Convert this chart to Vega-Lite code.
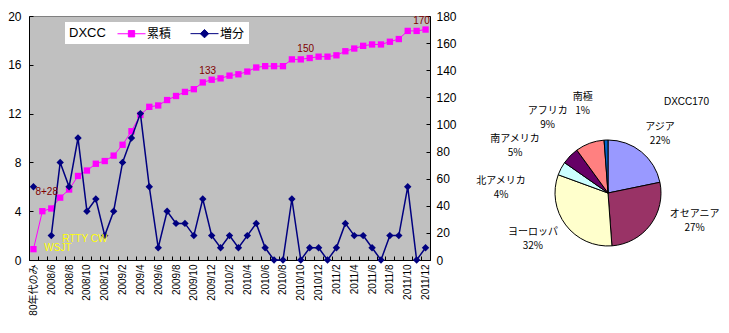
{
  "$schema": "https://vega.github.io/schema/vega-lite/v6.json",
  "background": "white",
  "padding": {"left": 7, "top": 9, "right": 4, "bottom": 3},
  "config": {
    "font": "Liberation Sans, Noto Sans CJK JP",
    "view": {"stroke": null},
    "axis": {"grid": false, "domainColor": "black", "tickColor": "black", "labelColor": "black", "labelFont": "Liberation Sans, Noto Sans CJK JP"},
    "title": {"color": "black"},
    "text": {"fontSize": 10, "lineBreak": "\n", "lineHeight": 14, "dy": -7, "font": "Noto Sans CJK JP", "color": "black"}
  },
  "datasets": {
    "monthly": [
      {"m": "80年代のみ", "inc": 6, "cum": 8},
      {"m": "2008/5", "inc": null, "cum": 36},
      {"m": "2008/6", "inc": 2, "cum": 38},
      {"m": "2008/7", "inc": 8, "cum": 46},
      {"m": "2008/8", "inc": 6, "cum": 52},
      {"m": "2008/9", "inc": 10, "cum": 62},
      {"m": "2008/10", "inc": 4, "cum": 66},
      {"m": "2008/11", "inc": 5, "cum": 71},
      {"m": "2008/12", "inc": 2, "cum": 73},
      {"m": "2009/1", "inc": 4, "cum": 77},
      {"m": "2009/2", "inc": 8, "cum": 85},
      {"m": "2009/3", "inc": 10, "cum": 95},
      {"m": "2009/4", "inc": 12, "cum": 107},
      {"m": "2009/5", "inc": 6, "cum": 113},
      {"m": "2009/6", "inc": 1, "cum": 114},
      {"m": "2009/7", "inc": 4, "cum": 118},
      {"m": "2009/8", "inc": 3, "cum": 121},
      {"m": "2009/9", "inc": 3, "cum": 124},
      {"m": "2009/10", "inc": 2, "cum": 126},
      {"m": "2009/11", "inc": 5, "cum": 131},
      {"m": "2009/12", "inc": 2, "cum": 133, "lbl": "133"},
      {"m": "2010/1", "inc": 1, "cum": 134},
      {"m": "2010/2", "inc": 2, "cum": 136},
      {"m": "2010/3", "inc": 1, "cum": 137},
      {"m": "2010/4", "inc": 2, "cum": 139},
      {"m": "2010/5", "inc": 3, "cum": 142},
      {"m": "2010/6", "inc": 1, "cum": 143},
      {"m": "2010/7", "inc": 0, "cum": 143},
      {"m": "2010/8", "inc": 0, "cum": 143},
      {"m": "2010/9", "inc": 5, "cum": 148},
      {"m": "2010/10", "inc": 0, "cum": 148},
      {"m": "2010/11", "inc": 1, "cum": 149, "lbl": "150"},
      {"m": "2010/12", "inc": 1, "cum": 150},
      {"m": "2011/1", "inc": 0, "cum": 150},
      {"m": "2011/2", "inc": 1, "cum": 151},
      {"m": "2011/3", "inc": 3, "cum": 154},
      {"m": "2011/4", "inc": 2, "cum": 156},
      {"m": "2011/5", "inc": 2, "cum": 158},
      {"m": "2011/6", "inc": 1, "cum": 159},
      {"m": "2011/7", "inc": 0, "cum": 159},
      {"m": "2011/8", "inc": 2, "cum": 161},
      {"m": "2011/9", "inc": 2, "cum": 163},
      {"m": "2011/10", "inc": 6, "cum": 169},
      {"m": "2011/11", "inc": 0, "cum": 169},
      {"m": "2011/12", "inc": 1, "cum": 170, "lbl": "170"}
    ],
    "notes": [
      {"m": "80年代のみ", "v": 5.6, "t": "8+28"},
      {"m": "2008/7", "v": 1.75, "t": "RTTY CW"},
      {"m": "2008/5", "v": 1.0, "t": "WSJT"}
    ],
    "regions": [
      {"region": "アジア", "n": 37, "o": 1, "label": "アジア\n22%"},
      {"region": "オセアニア", "n": 46, "o": 2, "label": "オセアニア\n27%"},
      {"region": "ヨーロッパ", "n": 54, "o": 3, "label": "ヨーロッパ\n32%"},
      {"region": "北アメリカ", "n": 7, "o": 4, "label": "北アメリカ\n4%"},
      {"region": "南アメリカ", "n": 9, "o": 5, "label": "南アメリカ\n5%"},
      {"region": "アフリカ", "n": 15, "o": 6, "label": "アフリカ\n9%"},
      {"region": "南極", "n": 2, "o": 7, "label": "南極\n1%"}
    ]
  },
  "hconcat": [
    {
      "width": 401,
      "height": 244,
      "view": {"fill": "#c0c0c0", "stroke": "#808080"},
      "data": {"name": "monthly"},
      "encoding": {
        "x": {
          "field": "m", "type": "ordinal", "sort": null, "bandPosition": 0.5,
          "scale": {"type": "band", "paddingInner": 0, "paddingOuter": 0},
          "axis": {
            "title": null, "labelAngle": 270, "labelFontSize": 10, "labelPadding": 8,
            "tickSize": -4, "tickBand": "extent", "labelOverlap": false, "labelBound": false,
            "labelExpr": "datum.value == '80年代のみ' || toNumber(split(datum.value, '/')[1]) % 2 == 0 ? datum.value : ''"
          }
        }
      },
      "layer": [
        {
          "encoding": {
            "y": {
              "field": "cum", "type": "quantitative",
              "scale": {"domain": [0, 180], "nice": false},
              "axis": {"orient": "right", "title": null, "values": [0, 20, 40, 60, 80, 100, 120, 140, 160, 180], "tickSize": -4, "labelPadding": 10, "labelFontSize": 12}
            },
            "color": {
              "datum": "累積", "type": "nominal",
              "scale": {"domain": ["累積", "増分"], "range": ["#ff00ff", "#000080"]},
              "legend": {
                "title": "DXCC", "orient": "none", "legendX": 36, "legendY": 6, "direction": "horizontal",
                "titleOrient": "left", "titleFontSize": 13, "titleFontWeight": "normal", "titleFont": "Liberation Sans", "titleColor": "black", "titlePadding": 18,
                "labelFont": "Noto Sans CJK JP", "labelFontSize": 12, "labelColor": "black", "labelOffset": 8,
                "symbolSize": 196, "columnPadding": 16, "padding": 4, "fillColor": "white",
                "encode": {
                  "symbols": {
                    "update": {
                      "shape": {"signal": "datum.value === '累積' ? 'M-2,0H2M-0.45,-0.45H0.45V0.45H-0.45Z' : 'M-2,0H2M0,-0.6L0.6,0L0,0.6L-0.6,0Z'"},
                      "fill": {"signal": "datum.value === '累積' ? '#ff00ff' : '#000080'"},
                      "stroke": {"signal": "datum.value === '累積' ? '#ff00ff' : '#000080'"},
                      "strokeWidth": {"value": 1},
                      "opacity": {"value": 1},
                      "fillOpacity": {"value": 1},
                      "strokeOpacity": {"value": 1}
                    }
                  }
                }
              }
            }
          },
          "layer": [
            {"mark": {"type": "line", "strokeWidth": 1}},
            {"mark": {"type": "point", "shape": "square", "filled": true, "size": 40, "opacity": 1}},
            {
              "transform": [{"filter": "datum.lbl != null"}],
              "mark": {"type": "text", "dx": -4, "dy": -9, "fontSize": 10, "font": "Liberation Sans"},
              "encoding": {"text": {"field": "lbl"}, "color": {"value": "#800000"}}
            }
          ]
        },
        {
          "encoding": {
            "y": {
              "field": "inc", "type": "quantitative",
              "scale": {"domain": [0, 20], "nice": false},
              "axis": {"orient": "left", "title": null, "values": [0, 4, 8, 12, 16, 20], "tickSize": -4, "labelPadding": 12, "labelFontSize": 12}
            },
            "color": {"datum": "増分", "type": "nominal"}
          },
          "layer": [
            {"mark": {"type": "line", "strokeWidth": 1.5, "invalid": "break-paths-show-domains"}},
            {"mark": {"type": "point", "shape": "diamond", "filled": true, "size": 55, "opacity": 1}}
          ]
        },
        {
          "data": {"name": "notes"},
          "mark": {"type": "text", "align": "left", "baseline": "middle", "dx": 2, "dy": 0, "fontSize": 10, "font": "Liberation Sans"},
          "encoding": {
            "y": {"field": "v", "type": "quantitative", "scale": {"domain": [0, 20], "nice": false}, "axis": null},
            "text": {"field": "t"},
            "color": {"condition": {"test": "datum.t == '8+28'", "value": "#800000"}, "value": "#ffff00"}
          }
        }
      ],
      "resolve": {"scale": {"y": "independent"}}
    },
    {
      "vconcat": [
        {
          "width": 202, "height": 61,
          "data": {"values": [{}]},
          "mark": {"type": "text"},
          "encoding": {"text": {"value": ""}}
        },
        {
          "width": 202, "height": 170,
          "title": {"text": "DXCC170", "anchor": "end", "frame": "group", "fontSize": 10, "fontWeight": "normal", "font": "Liberation Sans", "offset": -30, "color": "black"},
          "data": {"name": "regions"},
          "encoding": {
            "theta": {"field": "n", "type": "quantitative", "stack": true},
            "order": {"field": "o", "type": "quantitative"},
            "detail": {"field": "region", "type": "nominal"}
          },
          "layer": [
            {
              "mark": {"type": "arc", "radius": 53, "stroke": "black", "strokeWidth": 1},
              "encoding": {
                "color": {
                  "field": "region", "type": "nominal", "sort": null,
                  "scale": {"domain": ["アジア", "オセアニア", "ヨーロッパ", "北アメリカ", "南アメリカ", "アフリカ", "南極"], "range": ["#9999ff", "#993366", "#ffffcc", "#ccffff", "#660066", "#ff8080", "#0066cc"]},
                  "legend": null
                }
              }
            },
            {
              "mark": {"type": "text", "radius": 79},
              "encoding": {
                "theta": {"field": "n", "type": "quantitative", "stack": true, "scale": {"range": [0.035, 6.318]}},
                "text": {"condition": {"test": "datum.region == 'アジア'", "field": "label", "type": "nominal"}, "value": ""}
              }
            },
            {
              "mark": {"type": "text", "radius": 91},
              "encoding": {
                "theta": {"field": "n", "type": "quantitative", "stack": true, "scale": {"range": [-0.337, 5.946]}},
                "text": {"condition": {"test": "datum.region == 'オセアニア'", "field": "label", "type": "nominal"}, "value": ""}
              }
            },
            {
              "mark": {"type": "text", "radius": 88},
              "encoding": {
                "theta": {"field": "n", "type": "quantitative", "stack": true, "scale": {"range": [0.098, 6.381]}},
                "text": {"condition": {"test": "datum.region == 'ヨーロッパ'", "field": "label", "type": "nominal"}, "value": ""}
              }
            },
            {
              "mark": {"type": "text", "radius": 107},
              "encoding": {
                "theta": {"field": "n", "type": "quantitative", "stack": true, "scale": {"range": [-0.433, 5.850]}},
                "text": {"condition": {"test": "datum.region == '北アメリカ'", "field": "label", "type": "nominal"}, "value": ""}
              }
            },
            {
              "mark": {"type": "text", "radius": 104},
              "encoding": {
                "theta": {"field": "n", "type": "quantitative", "stack": true, "scale": {"range": [-0.311, 5.972]}},
                "text": {"condition": {"test": "datum.region == '南アメリカ'", "field": "label", "type": "nominal"}, "value": ""}
              }
            },
            {
              "mark": {"type": "text", "radius": 96},
              "encoding": {
                "theta": {"field": "n", "type": "quantitative", "stack": true, "scale": {"range": [-0.328, 5.955]}},
                "text": {"condition": {"test": "datum.region == 'アフリカ'", "field": "label", "type": "nominal"}, "value": ""}
              }
            },
            {
              "mark": {"type": "text", "radius": 93},
              "encoding": {
                "theta": {"field": "n", "type": "quantitative", "stack": true, "scale": {"range": [-0.239, 6.044]}},
                "text": {"condition": {"test": "datum.region == '南極'", "field": "label", "type": "nominal"}, "value": ""}
              }
            }
          ],
          "resolve": {"scale": {"theta": "independent"}}
        }
      ],
      "spacing": 0
    }
  ],
  "spacing": 19,
  "resolve": {"scale": {"color": "independent"}, "legend": {"color": "independent"}}
}
